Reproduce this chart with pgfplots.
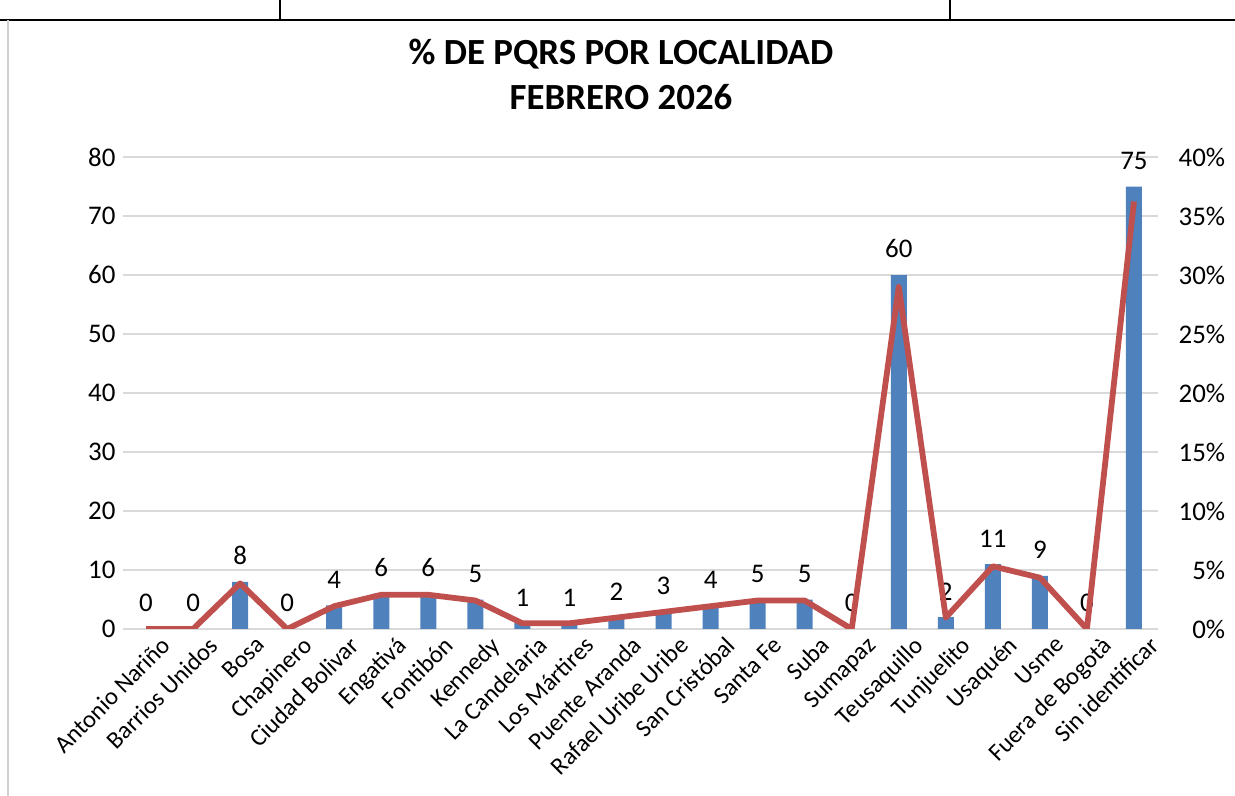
\documentclass[border=0pt]{standalone}
\usepackage{fontspec}
\setmainfont{Carlito}
\usepackage{pgfplots}
\pgfplotsset{compat=1.18}
\definecolor{barBlue}{HTML}{4F81BD}
\definecolor{lineRed}{HTML}{C0504D}
\definecolor{gridGray}{HTML}{D9D9D9}

\pgfplotstableread{
idx count pct
0  0  0
1  0  0
2  8  3.865
3  0  0
4  4  1.932
5  6  2.899
6  6  2.899
7  5  2.415
8  1  0.483
9  1  0.483
10 2  0.966
11 3  1.449
12 4  1.932
13 5  2.415
14 5  2.415
15 0  0
16 60 28.986
17 2  0.966
18 11 5.314
19 9  4.348
20 0  0
21 75 36.232
}\localidades

% 1 px of the 1235x796 reference = 0.5bp
\begin{document}
\begin{tikzpicture}
\useasboundingbox (0,0) rectangle (617.5bp,398bp);
% table borders of the screenshot
\draw[line width=1.2bp] (0,388bp) -- (617.5bp,388bp);
\draw[line width=0.6bp] (140bp,388bp) -- (140bp,398bp);
\draw[line width=0.6bp] (475bp,388bp) -- (475bp,398bp);
\draw[gray!35, line width=0.8bp] (4bp,0) -- (4bp,388bp);

\node[font=\bfseries\fontsize{18.5}{22.5}\selectfont, align=center] at (310.5bp,360.75bp)
  {\% DE PQRS POR LOCALIDAD\\FEBRERO 2026};

\begin{axis}[
  at={(61.25bp,83.5bp)}, anchor=south west,
  width=517.5bp, height=236bp, scale only axis,
  xmin=-0.5, xmax=21.5, ymin=0, ymax=80,
  ytick={0,10,...,80},
  xtick={0,...,21},
  xticklabels={Antonio Nariño, Barrios Unidos, Bosa, Chapinero, Ciudad Bolivar,
    Engativá, Fontibón, Kennedy, La Candelaria, Los Mártires, Puente Aranda,
    Rafael Uribe Uribe, San Cristóbal, Santa Fe, Suba, Sumapaz, Teusaquillo,
    Tunjuelito, Usaquén, Usme, Fuera de Bogotà, Sin identificar},
  xticklabel style={font=\fontsize{12.3}{14}\selectfont, rotate=45, anchor=north east, inner sep=1bp, xshift=4bp, yshift=-6bp},
  yticklabel style={font=\fontsize{13.5}{16}\selectfont},
  /pgf/number format/assume math mode=true,
  ymajorgrids, grid style={gridGray, line width=0.7bp},
  axis line style={draw=none},
  major tick length=0,
  ybar, bar width=8bp,
  nodes near coords,
  nodes near coords style={font=\fontsize{13.5}{16}\selectfont, yshift=5bp},
]
\addplot[fill=barBlue, draw=none] table[x=idx, y=count] {\localidades};
\end{axis}

\begin{axis}[
  at={(61.25bp,83.5bp)}, anchor=south west,
  width=517.5bp, height=236bp, scale only axis,
  xmin=-0.5, xmax=21.5, ymin=0, ymax=40,
  ytick={0,5,...,40},
  yticklabel={\pgfmathprintnumber{\tick}\%},
  yticklabel style={font=\fontsize{13.5}{16}\selectfont, anchor=east, inner sep=0pt, xshift=34bp},
  /pgf/number format/assume math mode=true,
  axis y line*=right, axis x line=none,
  axis line style={draw=none},
  major tick length=0,
]
\addplot[lineRed, line width=2.9bp, line join=round, mark=none] table[x=idx, y=pct] {\localidades};
\end{axis}
\end{tikzpicture}
\end{document}
